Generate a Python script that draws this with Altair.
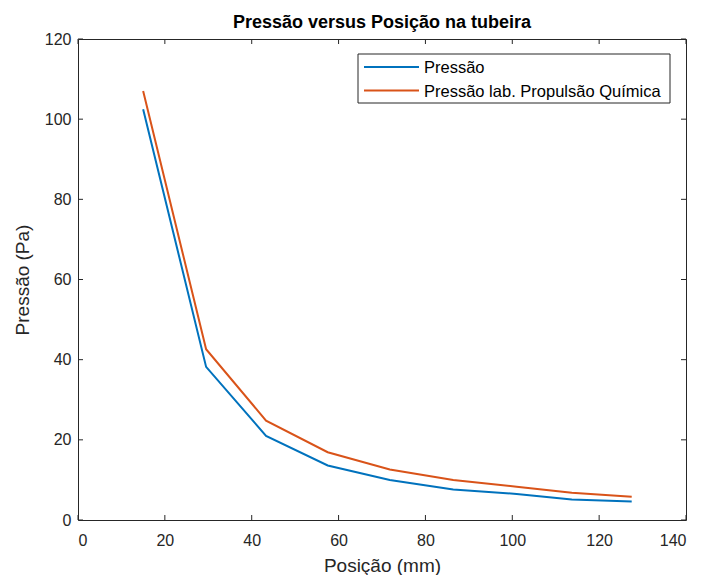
import altair as alt
import pandas as pd

# Data
posicao = [15, 29.5, 43.3, 57.5, 71.8, 86.4, 101, 113.7, 127.5]
pressao = [102.5, 38.2, 21.0, 13.6, 10.0, 7.6, 6.5, 5.1, 4.6]
pressao_lab = [107.0, 42.6, 24.8, 16.9, 12.6, 10.0, 8.3, 6.8, 5.8]
series_names = ["Pressão", "Pressão lab. Propulsão Química"]
series_colors = ["#0072BD", "#D95319"]
x_ticks = [0, 20, 40, 60, 80, 100, 120, 140]
y_ticks = [0, 20, 40, 60, 80, 100, 120]

rows = []
for xv, a, b in zip(posicao, pressao, pressao_lab):
    rows.append({"x": xv, "y": a, "serie": series_names[0]})
    rows.append({"x": xv, "y": b, "serie": series_names[1]})
df = pd.DataFrame(rows)
xt = pd.DataFrame({"v": x_ticks})
yt = pd.DataFrame({"v": y_ticks})
one = pd.DataFrame({"k": [0]})

W, H = 608, 481
AX = "#262626"
FONT = "Liberation Sans"

xscale = alt.Scale(domain=[0, 140], nice=False, zero=False)
yscale = alt.Scale(domain=[0, 120], nice=False, zero=False)

lines = alt.Chart(df).mark_line(strokeWidth=2).encode(
    x=alt.X("x:Q", scale=xscale,
            axis=alt.Axis(values=x_ticks, title="Posição (mm)", format="d")),
    y=alt.Y("y:Q", scale=yscale,
            axis=alt.Axis(values=y_ticks, title="Pressão (Pa)", format="d")),
    color=alt.Color("serie:N",
                    scale=alt.Scale(domain=series_names, range=series_colors),
                    legend=None),
    order="x:Q",
)

tb = alt.Chart(xt).mark_rule(color=AX, strokeWidth=1).encode(
    x=alt.X("v:Q", scale=xscale), y=alt.value(H), y2=alt.value(H - 5))
tt = alt.Chart(xt).mark_rule(color=AX, strokeWidth=1).encode(
    x=alt.X("v:Q", scale=xscale), y=alt.value(0), y2=alt.value(5))
tl = alt.Chart(yt).mark_rule(color=AX, strokeWidth=1).encode(
    y=alt.Y("v:Q", scale=yscale), x=alt.value(0), x2=alt.value(5))
tr = alt.Chart(yt).mark_rule(color=AX, strokeWidth=1).encode(
    y=alt.Y("v:Q", scale=yscale), x=alt.value(W), x2=alt.value(W - 5))

# Manual legend (MATLAB style box)
leg_box = alt.Chart(one).mark_rect(fill="white", stroke=AX, strokeWidth=1).encode(
    x=alt.value(280), x2=alt.value(592), y=alt.value(15), y2=alt.value(64))
leg_layers = [leg_box]
for i, (name, col) in enumerate(zip(series_names, series_colors)):
    yy = 28 + 23.5 * i
    leg_layers.append(alt.Chart(one).mark_rule(color=col, strokeWidth=2).encode(
        x=alt.value(286), x2=alt.value(341), y=alt.value(yy)))
    leg_layers.append(alt.Chart(one).mark_text(
        text=name, align="left", baseline="middle", font=FONT, fontSize=16.5,
        color="#000000").encode(x=alt.value(346), y=alt.value(yy + 1)))

chart = alt.layer(lines, tb, tt, tl, tr, *leg_layers).properties(
    width=W, height=H,
    title=alt.TitleParams("Pressão versus Posição na tubeira", font=FONT,
                          fontSize=18, fontWeight="bold", color="#000000",
                          anchor="middle", offset=-1),
    autosize=alt.AutoSizeParams(type="none"),
    padding={"left": 70, "top": 31, "right": 10, "bottom": 55},
).configure_view(stroke=AX, strokeWidth=1).configure_axis(
    grid=False, ticks=False, domain=False, labelFont=FONT, labelFontSize=16,
    labelColor=AX, titleFont=FONT, titleFontSize=19, titleFontWeight="normal",
    titleColor=AX,
).configure_axisX(labelPadding=12, titlePadding=8).configure_axisY(
    labelPadding=7, titlePadding=12)

chart.save("out.html", embed_options={"renderer": "svg", "actions": False})
